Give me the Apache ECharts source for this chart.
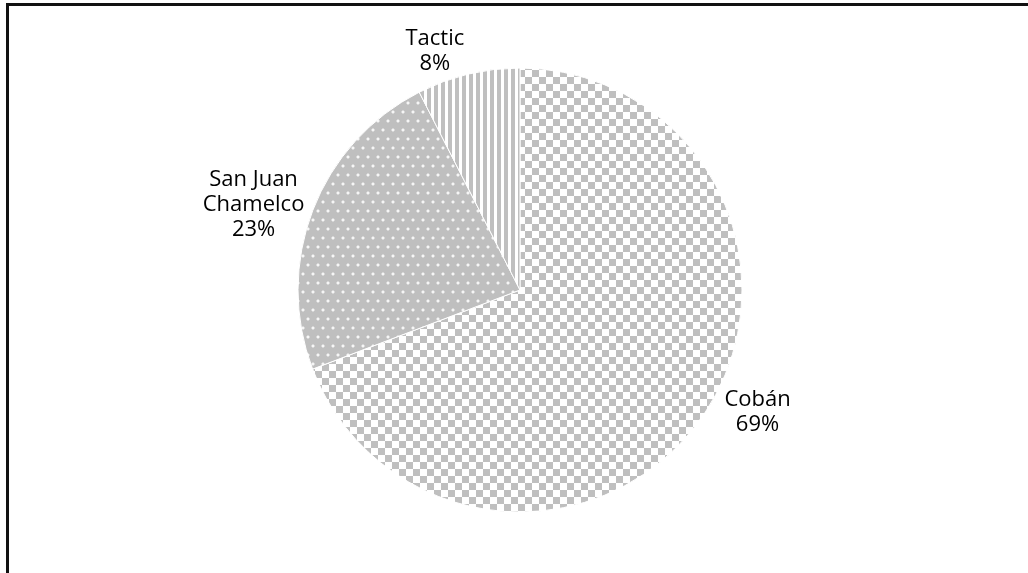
<!DOCTYPE html>
<html>
<head>
<meta charset="utf-8">
<script src="https://cdn.jsdelivr.net/npm/echarts@6/dist/echarts.min.js"></script>
<style>
html,body{margin:0;padding:0;background:#fff;}
#chart{position:absolute;left:0;top:0;width:1028px;height:573px;}
#frame{position:absolute;left:6px;top:3px;width:1022px;height:570px;border-top:3px solid #111;border-left:3px solid #111;box-sizing:border-box;pointer-events:none;}
</style>
</head>
<body>
<div id="chart"></div>
<div id="frame"></div>
<script>
const categories = ['Cobán', 'San Juan Chamelco', 'Tactic'];
const values = [69.2, 23.3, 7.5];

// small label nudges (style only) to mimic the spreadsheet's outside-end placement
const labelNudge = { 'Cobán': [4, -8], 'San Juan Chamelco': [10, -3], 'Tactic': [9, -15] };

function makePattern(w, h, draw) {
  const c = document.createElement('canvas');
  c.width = w; c.height = h;
  const ctx = c.getContext('2d');
  draw(ctx);
  return { image: c, repeat: 'repeat' };
}
const GRAY = '#bfbfbf';
const checker = makePattern(14, 14, ctx => {
  ctx.fillStyle = '#fff'; ctx.fillRect(0, 0, 14, 14);
  ctx.fillStyle = GRAY; ctx.fillRect(0, 0, 7, 7); ctx.fillRect(7, 7, 7, 7);
});
const dots = makePattern(10, 18, ctx => {
  ctx.fillStyle = GRAY; ctx.fillRect(0, 0, 10, 18);
  ctx.fillStyle = '#d6d6d6';
  ctx.fillRect(1, 3, 4, 2); ctx.fillRect(2, 2, 2, 4);
  ctx.fillRect(6, 12, 4, 2); ctx.fillRect(7, 11, 2, 4);
  ctx.fillStyle = '#f6f6f6'; ctx.fillRect(2, 3, 2, 2); ctx.fillRect(7, 12, 2, 2);
});
const stripes = makePattern(7, 7, ctx => {
  ctx.fillStyle = '#fff'; ctx.fillRect(0, 0, 7, 7);
  ctx.fillStyle = GRAY; ctx.fillRect(0, 0, 4, 7);
});
const fills = [checker, dots, stripes];

function wrap(name, maxChars) {
  const words = name.split(' ');
  const lines = [];
  let cur = '';
  words.forEach(w => {
    if (cur && (cur + ' ' + w).length > maxChars) { lines.push(cur); cur = w; }
    else { cur = cur ? cur + ' ' + w : w; }
  });
  if (cur) lines.push(cur);
  return lines;
}

const chart = echarts.init(document.getElementById('chart'), null, { renderer: 'canvas' });
const data = categories.map((n, i) => ({ name: n, value: values[i], itemStyle: { color: fills[i] } }));

chart.setOption({
  animation: false,
  series: [
    {
      type: 'pie',
      center: [520, 290],
      radius: [0, 222],
      startAngle: 90,
      clockwise: true,
      silent: true,
      percentPrecision: 0,
      avoidLabelOverlap: false,
      itemStyle: { borderColor: '#fff', borderWidth: 1 },
      label: {
        show: true,
        position: 'outside',
        formatter: p => wrap(p.name, 10).concat([p.percent + '%']).map(s => '{c|' + s + '}').join('\n'),
        fontFamily: 'Open Sans',
        fontSize: 22,
        lineHeight: 25,
        color: '#000',
        rich: {
          c: { align: 'center', fontFamily: 'Open Sans', fontSize: 22, lineHeight: 25, color: '#000' }
        }
      },
      labelLine: { show: false, length: 8, length2: 6 },
      labelLayout: params => {
        const n = labelNudge[categories[params.dataIndex]] || [0, 0];
        return { dx: n[0], dy: n[1] };
      },
      data: data
    }
  ]
});
</script>
</body>
</html>
